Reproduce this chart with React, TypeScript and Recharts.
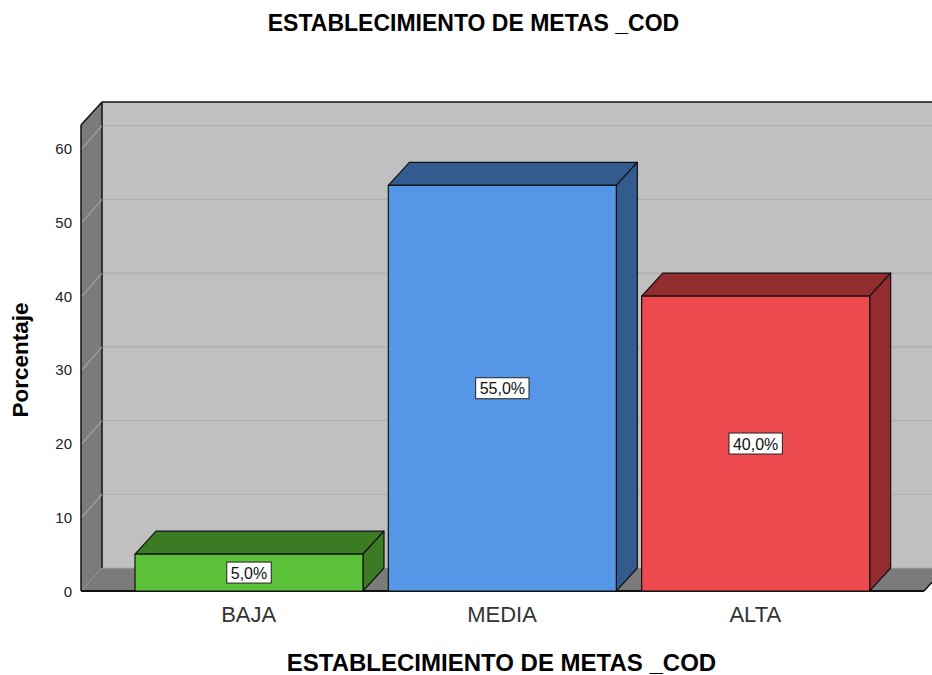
import React from 'react';
import { BarChart, Bar, XAxis, YAxis, ReferenceArea, ReferenceLine, LabelList } from 'recharts';

const categories = ['BAJA', 'MEDIA', 'ALTA'];
const percentages = [5.0, 55.0, 40.0];
const yTicks = [0, 10, 20, 30, 40, 50, 60];
const gridValues = [10, 20, 30, 40, 50, 60];
const frontColors = ['#5cc23a', '#5596e6', '#ec4a4e'];
const sideColors = ['#3c7a24', '#335b8f', '#912c2f'];
const chartTitle = 'ESTABLECIMIENTO DE METAS _COD';
const xTitle = 'ESTABLECIMIENTO DE METAS _COD';
const yTitle = 'Porcentaje';

const data = categories.map((c, i) => ({
  cat: c,
  pct: percentages[i],
  front: frontColors[i],
  side: sideColors[i],
}));

const W = 932;
const H = 675;
const DX = 21;
const DY = -23;
const Y_MAX = 63.2;
const PAD_L = 41;
const PAD_R = 42;
const FONT = '"Liberation Sans", Arial, sans-serif';

const Room = (props: any) => {
  const x = props.x - PAD_L;
  const width = props.width + PAD_L + PAD_R;
  const { y, height } = props;
  const b = y + height;
  const r = x + width;
  return (
    <g>
      <rect x={x + DX} y={y + DY} width={width + 40} height={height} fill="#c0c0c0" />
      <polygon points={`${x},${b} ${x},${y} ${x + DX},${y + DY} ${x + DX},${b + DY}`} fill="#7b7b7b" />
      <polygon points={`${x},${b} ${x + DX},${b + DY} ${r + DX},${b + DY} ${r},${b}`} fill="#7b7b7b" />
      <line x1={x + DX} y1={b + DY} x2={r + DX} y2={b + DY} stroke="#a8a8a8" strokeWidth={1} />
      <line x1={x} y1={b} x2={x} y2={y} stroke="#111" strokeWidth={1.5} />
      <line x1={x} y1={y} x2={x + DX} y2={y + DY} stroke="#111" strokeWidth={1.5} />
      <line x1={x + DX} y1={y + DY} x2={r + DX + 40} y2={y + DY} stroke="#111" strokeWidth={1.5} />
      <line x1={x + DX} y1={y + DY} x2={x + DX} y2={b + DY} stroke="#111" strokeWidth={1.5} />
      <line x1={x} y1={b} x2={r} y2={b} stroke="#111" strokeWidth={2} />
      <line x1={r} y1={b} x2={r + DX} y2={b + DY} stroke="#111" strokeWidth={1.5} />
    </g>
  );
};

const GridShape = (p: any) => {
  const { x1, y1, x2 } = p;
  if (x1 == null || y1 == null) return <g />;
  const xl = Math.min(x1, x2);
  const xr = Math.max(x1, x2);
  return (
    <g>
      <line x1={xl + 1} y1={y1} x2={xl + DX} y2={y1 + DY} stroke="#a2a2a2" strokeWidth={1.2} />
      <line x1={xl + DX + 1} y1={y1 + DY} x2={xr + DX + 40} y2={y1 + DY} stroke="#aeaeae" strokeWidth={1.2} />
    </g>
  );
};

const Box3D = (props: any) => {
  const { x, y, width, height, payload } = props;
  if (height == null || width == null) return <g />;
  const front = payload?.front ?? '#888';
  const side = payload?.side ?? '#444';
  const r = x + width;
  const b = y + height;
  return (
    <g stroke="#111" strokeWidth={1.2} strokeLinejoin="round">
      <polygon points={`${x},${y} ${x + DX},${y + DY} ${r + DX},${y + DY} ${r},${y}`} fill={side} />
      <polygon points={`${r},${y} ${r + DX},${y + DY} ${r + DX},${b + DY} ${r},${b}`} fill={side} />
      <rect x={x} y={y} width={width} height={height} fill={front} />
    </g>
  );
};

const charW: Record<string, number> = { ',': 4.45, '%': 14.2, '.': 4.45 };
const textWidth = (s: string) => s.split('').reduce((a, ch) => a + (charW[ch] ?? 8.9), 0);

const ValueLabel = (props: any) => {
  const vb = props.viewBox && props.viewBox.width != null ? props.viewBox : props;
  const { x, y, width, height } = vb;
  const v = Number(props.value);
  if (x == null || isNaN(v)) return null;
  const txt = `${v.toFixed(1).replace('.', ',')}%`;
  const tw = textWidth(txt);
  const bw = tw + 8;
  const bh = 21;
  const cx = x + width / 2;
  const cy = y + height / 2;
  return (
    <g>
      <rect x={cx - bw / 2} y={cy - bh / 2} width={bw} height={bh} fill="#fff" stroke="#222" strokeWidth={1} />
      <text x={cx} y={cy + 6} textAnchor="middle" fontFamily={FONT} fontSize={16} fill="#111">
        {txt}
      </text>
    </g>
  );
};

const XTick = (props: any) => {
  const { x, y, payload } = props;
  return (
    <text x={x} y={y + 31} textAnchor="middle" fontFamily={FONT} fontSize={22} fill="#333">
      {payload.value}
    </text>
  );
};

const YTick = (props: any) => {
  const { x, y, payload } = props;
  return (
    <text x={x} y={y + 5.5} textAnchor="end" fontFamily={FONT} fontSize={15} fill="#222">
      {payload.value}
    </text>
  );
};

export default function App() {
  return (
    <div style={{ position: 'absolute', left: 0, top: 0, width: W, height: H, background: '#fff', overflow: 'hidden' }}>
      <BarChart
        width={W}
        height={H}
        data={data}
        margin={{ top: 125, right: 8, bottom: 54, left: 0 }}
        style={{ position: 'absolute', left: 0, top: 0 }}
      >
        <ReferenceArea y1={0} y2={Y_MAX} shape={Room} ifOverflow="visible" zIndex={-300} />
        {gridValues.map((v) => (
          <ReferenceLine key={v} y={v} shape={GridShape} ifOverflow="visible" zIndex={-200} />
        ))}
        <XAxis
          dataKey="cat"
          padding={{ left: PAD_L, right: PAD_R }}
          axisLine={false}
          tickLine={false}
          tickSize={0}
          tickMargin={0}
          height={30}
          tick={<XTick />}
        />
        <YAxis
          type="number"
          domain={[0, Y_MAX]}
          ticks={yTicks}
          width={81}
          axisLine={false}
          tickLine={false}
          tickSize={0}
          tickMargin={9}
          tick={<YTick />}
          allowDataOverflow
        />
        <Bar dataKey="pct" barSize={228} shape={Box3D} isAnimationActive={false}>
          <LabelList dataKey="pct" content={ValueLabel} />
        </Bar>
      </BarChart>
      <svg width={W} height={H} style={{ position: 'absolute', left: 0, top: 0, pointerEvents: 'none' }}>
        <text x={473.5} y={31} textAnchor="middle" fontFamily={FONT} fontWeight="bold" fontSize={23} fill="#000">
          {chartTitle}
        </text>
        <text x={501.5} y={671} textAnchor="middle" fontFamily={FONT} fontWeight="bold" fontSize={24} fill="#000">
          {xTitle}
        </text>
        <text
          x={0}
          y={0}
          transform="translate(28,360) rotate(-90)"
          textAnchor="middle"
          fontFamily={FONT}
          fontWeight="bold"
          fontSize={22.5}
          fill="#000"
        >
          {yTitle}
        </text>
      </svg>
    </div>
  );
}
